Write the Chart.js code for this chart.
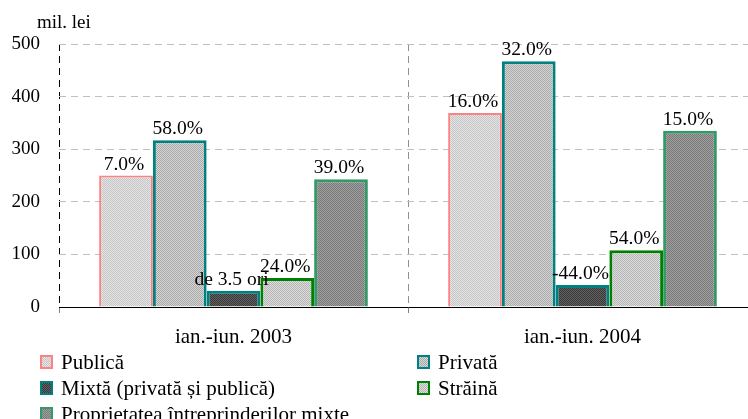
<!DOCTYPE html>
<html>
<head>
<meta charset="utf-8">
<script src="https://cdn.jsdelivr.net/npm/chart.js@4/dist/chart.umd.min.js"></script>
<style>
  html, body { margin: 0; padding: 0; background: #fff; overflow: hidden; }
  #chart { display: block; }
</style>
</head>
<body>
<canvas id="chart" width="760" height="419"></canvas>
<script>
// ---------- data ----------
const periods = ['ian.-iun. 2003', 'ian.-iun. 2004'];
const seriesNames = ['Publică', 'Privată', 'Mixtă (privată și publică)', 'Străină', 'Proprietatea întreprinderilor mixte'];
const publica = [250, 369];
const privata = [317, 467];
const mixta = [31, 42];
const straina = [55, 108];
const proprietatea = [243, 335];
const publicaLabels = ['7.0%', '16.0%'];
const privataLabels = ['58.0%', '32.0%'];
const mixtaLabels = ['de 3.5 ori', '-44.0%'];
const strainaLabels = ['24.0%', '54.0%'];
const proprietateaLabels = ['39.0%', '15.0%'];
const yTicks = [0, 100, 200, 300, 400, 500];

const FONT = '"Liberation Serif", "Times New Roman", serif';
const canvas = document.getElementById('chart');
const ctx = canvas.getContext('2d');

// small dotted fill like the original hatching
function makePattern(base, dot) {
    const p = document.createElement('canvas');
    p.width = 2; p.height = 2;
    const g = p.getContext('2d');
    g.fillStyle = base; g.fillRect(0, 0, 2, 2);
    g.fillStyle = dot; g.fillRect(0, 0, 1, 1); g.fillRect(1, 1, 1, 1);
    return ctx.createPattern(p, 'repeat');
}

const fills = [
    makePattern('#e4e4e4', '#c6c6c6'),
    makePattern('#d6d6d6', '#a8a8a8'),
    makePattern('#626262', '#383838'),
    makePattern('#dedede', '#b4b4b4'),
    makePattern('#a0a0a0', '#787878')
];
const borders = ['#ff8080', '#008080', '#008080', '#008000', '#339966'];
const borderWidths = [2, 3, 3, 3, 3];
const values = [publica, privata, mixta, straina, proprietatea];
const barLabels = [publicaLabels, privataLabels, mixtaLabels, strainaLabels, proprietateaLabels];

// labels above bars
const barLabelPlugin = {
    id: 'barLabels',
    afterDatasetsDraw(chart) {
        const c = chart.ctx;
        c.save();
        c.font = '19.5px ' + FONT;
        c.fillStyle = '#000';
        c.textAlign = 'center';
        c.textBaseline = 'alphabetic';
        chart.data.datasets.forEach((ds, i) => {
            chart.getDatasetMeta(i).data.forEach((bar, j) => {
                c.fillText(barLabels[i][j], bar.x - 2, bar.y - 6);
            });
        });
        c.restore();
    }
};

// unit title + two column legend
const extrasPlugin = {
    id: 'extras',
    afterDraw(chart) {
        const c = chart.ctx;
        c.save();
        c.font = '19px ' + FONT;
        c.fillStyle = '#000';
        c.textBaseline = 'alphabetic';
        c.fillText('mil. lei', 37, 28);

        c.font = '21px ' + FONT;
        const cols = [41, 418];
        const rows = [369, 395, 421];
        seriesNames.forEach((name, i) => {
            const x = cols[i % 2];
            const y = rows[Math.floor(i / 2)];
            c.fillStyle = fills[i];
            c.fillRect(x, y - 13, 11, 12);
            c.strokeStyle = borders[i];
            c.lineWidth = 2;
            c.strokeRect(x, y - 13, 11, 12);
            c.fillStyle = '#000';
            c.fillText(name, x + 20, y);
        });
        c.restore();
    }
};

new Chart(ctx, {
    type: 'bar',
    data: {
        labels: periods,
        datasets: seriesNames.map((name, i) => ({
            label: name,
            data: values[i],
            backgroundColor: fills[i],
            borderColor: borders[i],
            borderWidth: borderWidths[i],
            categoryPercentage: 0.77,
            barPercentage: 1.0
        }))
    },
    options: {
        responsive: false,
        devicePixelRatio: 1,
        animation: false,
        layout: { padding: { top: 44, right: 3, bottom: 72, left: 0 } },
        plugins: {
            legend: { display: false },
            tooltip: { enabled: false }
        },
        scales: {
            x: {
                grid: {
                    offset: true,
                    color: (ctx) => ctx.index === 0 ? '#000' : '#909090',
                    tickLength: 6,
                    tickColor: '#808080'
                },
                border: { display: true, color: '#000', width: 1, dash: [7, 5] },
                ticks: { color: '#000', font: { family: FONT, size: 21 }, padding: 12 },
                afterFit: (scale) => { scale.height = 40; }
            },
            y: {
                min: 0,
                max: 500,
                afterBuildTicks: (scale) => { scale.ticks = yTicks.map(v => ({ value: v })); },
                grid: {
                    color: (ctx) => ctx.tick && ctx.tick.value === 0 ? 'rgba(0,0,0,0)' : '#c0c0c0',
                    drawTicks: false
                },
                border: { display: false, dash: [7, 5] },
                ticks: { color: '#000', font: { family: FONT, size: 19 }, padding: 19 },
                afterFit: (scale) => { scale.width = 59; }
            }
        }
    },
    plugins: [barLabelPlugin, extrasPlugin]
});
</script>
</body>
</html>
